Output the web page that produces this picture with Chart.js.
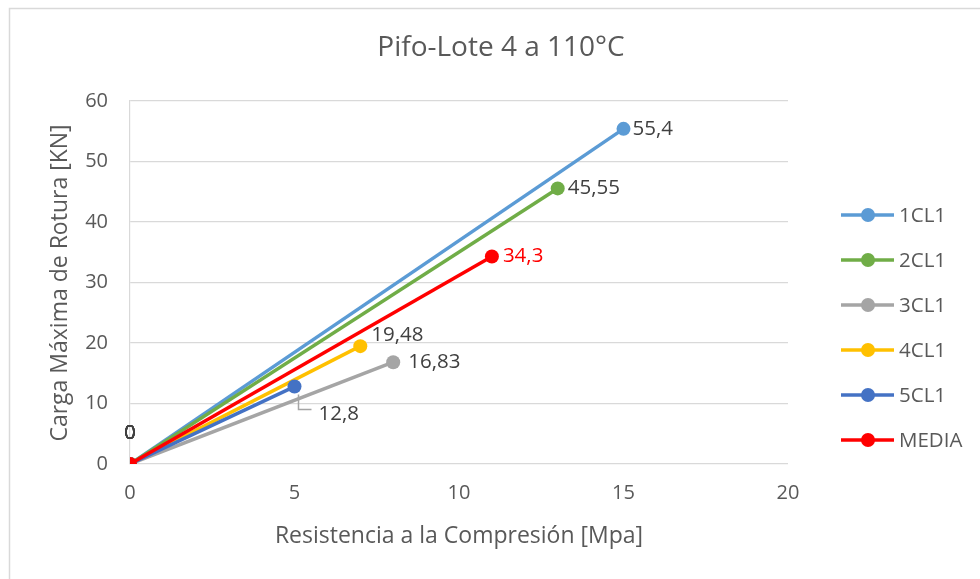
<!DOCTYPE html>
<html>
<head>
<meta charset="utf-8">
<script src="https://cdn.jsdelivr.net/npm/chart.js@4"></script>
<style>
  html, body { margin: 0; padding: 0; background: #fff; }
  #wrap { width: 980px; height: 579px; position: relative; }
</style>
</head>
<body>
<div id="wrap"><canvas id="chart" width="980" height="579"></canvas></div>
<script>
// Data: every series goes from (0,0) to its end point
const seriesNames = ["1CL1", "2CL1", "3CL1", "4CL1", "5CL1", "MEDIA"];
const resistencia = [
  [0, 15],
  [0, 13],
  [0, 8],
  [0, 7],
  [0, 5],
  [0, 11]
];
const carga = [
  [0, 55.4],
  [0, 45.55],
  [0, 16.83],
  [0, 19.48],
  [0, 12.8],
  [0, 34.3]
];
const xTicks = [0, 5, 10, 15, 20];
const yTicks = [0, 10, 20, 30, 40, 50, 60];

const chartTitle = "Pifo-Lote 4 a 110°C";
const xTitle = "Resistencia a la Compresión [Mpa]";
const yTitle = "Carga Máxima de Rotura [KN]";

// styling
const colors = ["#5B9BD5", "#70AD47", "#A5A5A5", "#FFC000", "#4472C4", "#FF0000"];
const labelColors = ["#404040", "#404040", "#404040", "#404040", "#404040", "#FF0000"];
// where each end label sits relative to its point (px)
const labelOffsets = [[9, 0], [10, 0], [15, 0], [11, -11], [24, 28], [11, 0]];
const FONT = "'Open Sans', sans-serif";

const datasets = seriesNames.map((name, i) => ({
  label: name,
  data: resistencia[i].map((x, j) => ({ x: x, y: carga[i][j] })),
  showLine: true,
  borderColor: colors[i],
  backgroundColor: colors[i],
  borderWidth: 3.5,
  pointRadius: 7,
  pointBorderWidth: 0,
  order: seriesNames.length - i
}));

// decorations: border, titles, data labels, legend
const extras = {
  id: 'extras',
  afterDraw(chart) {
    const ctx = chart.ctx;
    const xs = chart.scales.x, ys = chart.scales.y;
    ctx.save();

    ctx.strokeStyle = '#D9D9D9';
    ctx.lineWidth = 1.5;
    ctx.strokeRect(9.5, 8.5, 1000, 620);

    ctx.fillStyle = '#595959';
    ctx.textAlign = 'center';
    ctx.textBaseline = 'middle';
    ctx.font = '28px ' + FONT;
    ctx.fillText(chartTitle, 501, 48);

    ctx.font = '23px ' + FONT;
    ctx.fillText(xTitle, 459, 536);
    ctx.save();
    ctx.translate(60, 283);
    ctx.rotate(-Math.PI / 2);
    ctx.fillText(yTitle, 0, 0);
    ctx.restore();

    // "0" labels at the origin (stacked for all series)
    ctx.font = '20px ' + FONT;
    ctx.fillStyle = '#404040';
    for (let k = 0; k < seriesNames.length; k++) {
      ctx.fillText(String(carga[k][0]), xs.getPixelForValue(0), ys.getPixelForValue(0) - 31);
    }

    // end-point labels
    ctx.textAlign = 'left';
    ctx.font = '20.5px ' + FONT;
    seriesNames.forEach((name, i) => {
      const n = resistencia[i].length - 1;
      const px = xs.getPixelForValue(resistencia[i][n]);
      const py = ys.getPixelForValue(carga[i][n]);
      const txt = String(carga[i][n]).replace('.', ',');
      const lx = px + labelOffsets[i][0], ly = py + labelOffsets[i][1];
      if (i === 4) {
        // leader line
        ctx.strokeStyle = '#A5A5A5';
        ctx.lineWidth = 1.5;
        ctx.beginPath();
        ctx.moveTo(px + 4, py + 8);
        ctx.lineTo(px + 4, py + 23);
        ctx.lineTo(px + 17, py + 23);
        ctx.stroke();
      }
      ctx.fillStyle = labelColors[i];
      ctx.fillText(txt, lx, ly);
    });

    // legend
    ctx.font = '20.5px ' + FONT;
    seriesNames.forEach((name, i) => {
      const y = 215 + i * 45;
      ctx.strokeStyle = colors[i];
      ctx.lineWidth = 3.5;
      ctx.beginPath();
      ctx.moveTo(841, y);
      ctx.lineTo(894, y);
      ctx.stroke();
      ctx.fillStyle = colors[i];
      ctx.beginPath();
      ctx.arc(868, y, 7, 0, Math.PI * 2);
      ctx.fill();
      ctx.fillStyle = '#595959';
      ctx.fillText(name, 899, y + 1);
    });
    ctx.restore();
  }
};

new Chart(document.getElementById('chart').getContext('2d'), {
  type: 'scatter',
  data: { datasets: datasets },
  options: {
    responsive: false,
    animation: false,
    layout: { padding: { top: 101, right: 192, left: 0, bottom: 0 } },
    scales: {
      x: {
        type: 'linear',
        min: xTicks[0],
        max: xTicks[xTicks.length - 1],
        afterFit(scale) { scale.height = 115; },
        afterBuildTicks(scale) { scale.ticks = xTicks.map(v => ({ value: v })); },
        grid: { display: false, drawTicks: false },
        border: { display: false },
        ticks: { color: '#595959', font: { family: FONT, size: 20 }, padding: 17 }
      },
      y: {
        type: 'linear',
        min: yTicks[0],
        max: yTicks[yTicks.length - 1],
        afterFit(scale) { scale.width = 130; },
        afterBuildTicks(scale) { scale.ticks = yTicks.map(v => ({ value: v })); },
        grid: { color: '#D9D9D9', lineWidth: 1.2, drawTicks: false },
        border: { display: true, color: '#D9D9D9', width: 1.2 },
        ticks: { color: '#595959', font: { family: FONT, size: 20 }, padding: 22 }
      }
    },
    plugins: {
      legend: { display: false },
      tooltip: { enabled: false }
    }
  },
  plugins: [extras]
});
</script>
</body>
</html>
